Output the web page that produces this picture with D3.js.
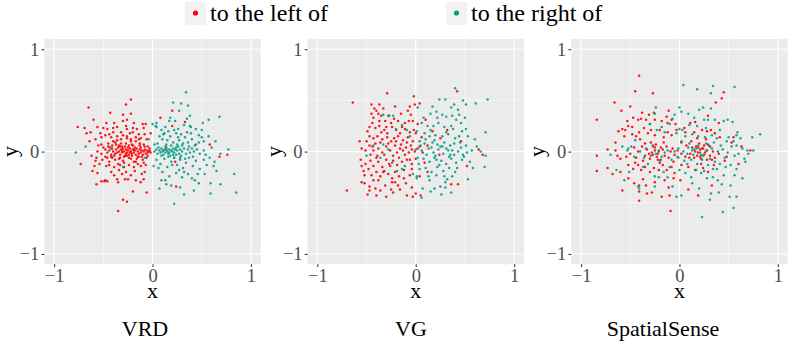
<!DOCTYPE html>
<meta charset="utf-8">
<head>
  <script src="https://d3js.org/d3.v7.min.js"></script>
  <style>
    body { margin: 0; background: #fff; }
    text { font-family: "Liberation Serif", "Times New Roman", serif; }
  </style>
</head>
<body>
<div id="chart"></div>
<script type="text/javascript">
"use strict"

// legenda e paineis
var series = ["to the left of", "to the right of"];
var cores = ["#ff0000", "#00a087"];
var paineis = ["VRD", "VG", "SpatialSense"];
var ticksMaiores = [-1, 0, 1];
var ticksMenores = [-0.5, 0.5];

// VRD
var vrdLeft = [
  [-0.22,0.51],[-0.27,0.46],[-0.65,0.43],[-0.76,0.24],[-0.69,0.23],[-0.60,0.31],[-0.63,0.19],[-0.73,-0.12],
  [-0.57,-0.32],[-0.52,-0.29],[-0.48,-0.28],[-0.46,-0.29],[-0.35,-0.58],[-0.30,-0.47],[-0.26,-0.49],[-0.20,-0.39],[-0.06,-0.40],
  [-0.43,0.38],[-0.30,0.36],[-0.22,0.37],
  [-0.47,0.28],[-0.39,0.28],[-0.30,0.30],[-0.26,0.31],[-0.19,0.28],[-0.10,0.27],[-0.07,0.27],
  [-0.56,0.24],[-0.50,0.23],[-0.46,0.22],[-0.40,0.23],[-0.36,0.24],[-0.27,0.25],[-0.26,0.22],[-0.20,0.23],[-0.16,0.22],[-0.09,0.23],
  [-0.67,0.18],[-0.53,0.18],[-0.48,0.16],[-0.44,0.17],[-0.40,0.19],[-0.32,0.19],[-0.30,0.16],[-0.23,0.18],[-0.20,0.19],[-0.14,0.17],[-0.08,0.17],
  [-0.58,0.12],[-0.52,0.14],[-0.42,0.14],[-0.36,0.15],[-0.32,0.12],[-0.26,0.13],[-0.22,0.12],[-0.17,0.14],[-0.12,0.13],[-0.06,0.12],
  [-0.52,0.07],[-0.45,0.08],[-0.41,0.06],[-0.38,0.09],[-0.34,0.06],[-0.31,0.05],[-0.27,0.08],[-0.24,0.06],[-0.21,0.07],[-0.17,0.10],[-0.13,0.06],[-0.09,0.07],[-0.05,0.05],
  [-0.56,0.00],[-0.52,-0.02],[-0.48,0.02],[-0.46,-0.01],[-0.44,0.01],[-0.42,-0.03],[-0.41,0.03],[-0.40,0.00],[-0.38,-0.02],[-0.37,0.02],
  [-0.36,-0.01],[-0.35,0.04],[-0.34,0.00],[-0.33,-0.03],[-0.32,0.02],[-0.31,-0.01],[-0.30,0.03],[-0.29,0.00],[-0.28,-0.04],[-0.27,0.02],
  [-0.26,-0.01],[-0.25,0.01],[-0.24,-0.03],[-0.23,0.03],[-0.22,0.00],[-0.21,-0.02],[-0.20,0.02],[-0.19,-0.01],[-0.18,0.01],[-0.17,-0.03],
  [-0.16,0.03],[-0.15,0.00],[-0.14,-0.02],[-0.13,0.02],[-0.12,-0.01],[-0.11,0.01],[-0.10,-0.03],[-0.09,0.00],[-0.08,0.02],[-0.07,-0.02],
  [-0.06,0.01],[-0.05,-0.01],[-0.04,0.00],[-0.03,0.01],[-0.02,-0.01],
  [-0.43,0.04],[-0.39,-0.04],[-0.33,0.05],[-0.29,-0.05],[-0.25,0.04],[-0.21,-0.04],[-0.18,0.04],[-0.15,-0.05],[-0.12,0.04],[-0.31,0.01],[-0.27,-0.02],[-0.23,-0.01],[-0.19,0.02],
  [-0.45,0.05],[-0.41,-0.06],[-0.37,0.07],[-0.34,-0.07],[-0.32,0.08],[-0.28,0.05],[-0.24,-0.06],[-0.20,0.06],[-0.16,-0.07],[-0.13,0.08],
  [-0.11,-0.05],[-0.08,0.05],[-0.05,-0.04],[-0.03,0.03],[-0.50,0.04],[-0.48,-0.05],[-0.36,0.11],[-0.29,-0.11],[-0.22,0.10],[-0.19,-0.10],
  [-0.14,0.12],[-0.09,-0.11],[-0.40,0.10],[-0.44,-0.10],[-0.26,0.15],[-0.33,-0.13],[-0.15,-0.12],[-0.55,0.06],[-0.58,-0.09],[-0.64,0.10],
  [-0.62,-0.04],[-0.57,-0.06],[-0.51,-0.08],[-0.46,-0.06],[-0.42,-0.05],[-0.38,-0.08],[-0.33,-0.06],[-0.30,-0.09],[-0.26,-0.04],[-0.22,-0.07],[-0.17,-0.10],[-0.14,-0.05],[-0.10,-0.08],[-0.06,-0.06],
  [-0.59,-0.14],[-0.54,-0.12],[-0.47,-0.14],[-0.44,-0.13],[-0.39,-0.15],[-0.35,-0.12],[-0.29,-0.15],[-0.24,-0.13],[-0.19,-0.15],[-0.12,-0.14],[-0.07,-0.13],
  [-0.61,-0.19],[-0.56,-0.21],[-0.42,-0.20],[-0.39,-0.23],[-0.34,-0.18],[-0.31,-0.22],[-0.27,-0.20],[-0.22,-0.23],[-0.18,-0.19],[-0.11,-0.22],[-0.08,-0.20],
  [-0.49,-0.29],[-0.36,-0.27],[-0.35,-0.30],[-0.28,-0.27],[-0.25,-0.27],[-0.17,-0.28],[-0.12,-0.30],[-0.09,-0.27],
  [0.20,0.40],[0.08,0.33],[0.33,0.29],[0.20,0.25],[-0.02,0.18],[0.14,0.02],[0.58,0.07],[0.76,-0.03],[0.68,-0.05],[0.23,-0.10],[0.24,-0.34]
];
var vrdRight = [
  [0.34,0.58],[0.21,0.48],[0.29,0.47],[0.36,0.45],[0.68,0.34],[0.57,0.31],[0.51,0.28],[0.38,0.35],[0.27,0.40],[0.04,0.28],[0.00,0.27],
  [0.83,-0.22],[0.85,-0.40],[0.69,-0.32],[0.59,-0.31],[0.59,-0.41],[0.42,-0.38],[0.32,-0.42],[0.22,-0.51],[0.07,-0.36],[0.14,-0.32],
  [0.09,-0.28],[0.19,-0.33],[0.47,-0.31],[0.65,-0.19],[0.63,-0.10],[0.53,-0.22],[0.77,0.02],[0.69,-0.02],[0.64,0.10],[0.57,0.15],
  [0.52,0.10],[0.47,0.16],[0.50,0.21],[0.44,0.22],[0.39,0.24],[0.32,0.26],[0.23,0.30],[0.17,0.30],[0.13,0.24],[0.09,0.21],[0.04,0.24],
  [-0.78,-0.01],[-0.68,0.05],[-0.30,-0.15],[0.03,0.25],[-0.04,0.12],[0.02,0.07],[-0.08,-0.06],[0.01,-0.14],[-0.42,0.03],
  [0.02,0.00],[0.04,0.02],[0.05,-0.02],[0.07,0.01],[0.08,-0.01],[0.09,0.03],[0.10,0.00],[0.11,-0.03],[0.12,0.02],[0.13,-0.01],
  [0.14,0.04],[0.15,0.00],[0.16,-0.02],[0.17,0.02],[0.18,-0.04],[0.19,0.01],[0.20,0.00],[0.21,0.03],[0.22,-0.01],[0.23,0.02],
  [0.24,-0.03],[0.25,0.01],[0.26,0.05],[0.27,-0.02],[0.28,0.02],[0.30,0.00],[0.32,0.03],[0.34,-0.02],[0.36,0.02],[0.38,-0.01],
  [0.40,0.03],[0.42,0.00],[0.45,0.02],[0.48,-0.02],[0.52,0.01],[0.11,0.01],[0.17,-0.01],[0.21,-0.03],[0.24,0.04],[0.29,-0.04],
  [0.06,0.04],[0.09,-0.04],[0.13,0.05],[0.16,-0.05],[0.19,0.06],[0.22,-0.06],[0.25,0.07],[0.28,-0.06],[0.31,0.08],[0.33,-0.07],
  [0.37,0.05],[0.41,-0.05],[0.44,0.07],[0.15,0.11],[0.20,-0.13],[0.26,0.22],[0.32,-0.20],[0.38,0.25],[0.46,-0.22],[0.50,0.14],
  [0.54,-0.03],[0.62,-0.14],[0.11,0.17],[0.06,-0.16],[0.18,0.33],[0.35,0.32],[0.43,-0.28],[0.28,-0.35],
  [0.05,0.08],[0.10,0.12],[0.14,0.07],[0.18,0.15],[0.21,0.09],[0.24,0.18],[0.27,0.11],[0.30,0.06],[0.33,0.14],[0.36,0.09],
  [0.40,0.12],[0.43,0.06],[0.47,0.09],[0.12,0.18],[0.16,0.20],[0.22,0.21],[0.29,0.17],[0.35,0.19],[0.07,0.15],[0.26,0.14],[0.39,0.18],
  [0.04,-0.08],[0.08,-0.12],[0.12,-0.07],[0.15,-0.15],[0.19,-0.10],[0.22,-0.06],[0.25,-0.13],[0.28,-0.08],[0.31,-0.16],[0.34,-0.11],
  [0.37,-0.06],[0.41,-0.14],[0.44,-0.09],[0.48,-0.17],[0.52,-0.08],[0.10,-0.20],[0.17,-0.24],[0.24,-0.21],[0.30,-0.25],[0.36,-0.22],
  [0.40,-0.26],[0.13,-0.28],[0.27,-0.18],[0.55,-0.13],[0.58,-0.06],[0.60,0.04]
];

// VG
var vgLeft = [
  [-0.29,0.57],[-0.64,0.48],[-0.45,0.46],[-0.37,0.46],[-0.21,0.44],[-0.06,0.44],[-0.42,0.42],[-0.40,0.40],[-0.38,0.37],[-0.35,0.35],
  [-0.15,0.37],[-0.05,0.36],[-0.02,0.54],[0.42,0.59],
  [-0.43,0.33],[-0.37,0.30],[-0.44,0.28],[-0.31,0.30],[-0.25,0.28],[-0.18,0.30],[-0.11,0.28],[-0.07,0.30],[-0.03,0.30],
  [-0.47,0.24],[-0.41,0.23],[-0.37,0.25],[-0.32,0.21],[-0.29,0.18],[-0.24,0.24],[-0.20,0.21],[-0.16,0.18],[-0.11,0.22],[-0.06,0.19],[0.00,0.18],
  [-0.47,0.15],[-0.43,0.13],[-0.39,0.15],[-0.34,0.12],[-0.29,0.14],[-0.25,0.10],[-0.22,0.13],[-0.18,0.15],[-0.13,0.11],[-0.08,0.14],[-0.03,0.10],
  [-0.55,0.03],[-0.51,0.01],[-0.47,0.06],[-0.43,0.01],[-0.41,0.08],[-0.38,0.03],[-0.34,-0.01],[-0.30,0.05],[-0.26,0.01],[-0.21,0.06],
  [-0.19,-0.01],[-0.16,0.03],[-0.13,0.01],[-0.10,0.04],[-0.07,-0.01],[-0.04,0.02],[-0.01,0.00],[0.02,0.03],[-0.46,-0.03],[-0.39,-0.04],
  [-0.32,-0.03],[-0.23,-0.04],[-0.11,-0.03],[-0.28,0.08],[-0.36,0.09],[-0.50,0.10],[-0.15,0.07],[-0.05,0.06],
  [-0.44,0.05],[-0.40,-0.06],[-0.35,0.19],[-0.33,-0.20],[-0.27,0.35],[-0.24,-0.30],[-0.20,0.10],[-0.17,-0.06],[-0.14,0.24],[-0.12,-0.26],
  [-0.09,0.09],[-0.06,-0.08],[-0.02,0.21],[-0.49,0.20],[-0.52,-0.23],[-0.45,0.37],[-0.38,-0.28],[-0.30,0.24],[-0.26,-0.14],[-0.22,0.32],
  [-0.18,-0.33],[-0.08,0.40],[-0.04,-0.17],[-0.47,-0.38],[-0.33,0.42],[0.06,0.14],[0.12,-0.20],[0.02,0.27],[-0.57,0.10],[-0.55,-0.14],
  [-0.56,-0.08],[-0.51,-0.12],[-0.46,-0.09],[-0.43,-0.14],[-0.38,-0.10],[-0.34,-0.15],[-0.30,-0.08],[-0.27,-0.12],[-0.23,-0.09],[-0.19,-0.13],[-0.14,-0.10],[-0.09,-0.08],[-0.04,-0.12],
  [-0.53,-0.19],[-0.48,-0.17],[-0.45,-0.23],[-0.40,-0.20],[-0.36,-0.24],[-0.32,-0.19],[-0.28,-0.22],[-0.24,-0.26],[-0.21,-0.20],[-0.17,-0.24],[-0.12,-0.18],[-0.06,-0.23],
  [-0.55,-0.30],[-0.52,-0.31],[-0.47,-0.34],[-0.43,-0.28],[-0.41,-0.36],[-0.36,-0.38],[-0.31,-0.33],[-0.25,-0.37],[-0.21,-0.30],[-0.16,-0.37],[-0.10,-0.31],[-0.04,-0.35],
  [-0.49,-0.42],[-0.40,-0.43],[-0.30,-0.44],[-0.23,-0.40],[-0.09,-0.43],[-0.03,-0.44],[-0.70,-0.38],
  [-0.01,0.46],[0.04,0.47],[0.10,0.31],[0.17,0.20],[0.25,0.13],[0.46,0.10],[0.64,0.02],[0.68,-0.03],[0.52,-0.14],[0.36,-0.32],[0.43,-0.32],
  [0.04,0.05],[0.07,-0.01],[0.12,0.06],[0.00,-0.07],[0.09,-0.11],[0.04,-0.24],[0.00,-0.41],[0.05,-0.43],[0.24,-0.03],[0.32,0.21]
];
var vgRight = [
  [0.40,0.62],[0.24,0.51],[0.30,0.51],[0.48,0.50],[0.73,0.51],[0.61,0.47],[0.51,0.46],[0.39,0.46],[0.36,0.43],[0.43,0.41],[0.02,0.43],
  [0.15,0.37],[0.21,0.39],[0.27,0.36],[0.31,0.34],[0.37,0.35],[0.41,0.31],[0.46,0.28],[0.06,0.28],[0.12,0.25],[0.18,0.25],[0.23,0.28],
  [0.29,0.24],[0.36,0.25],[0.47,0.20],[0.51,0.22],[0.71,0.19],[0.01,0.20],[0.09,0.18],[0.14,0.15],[0.20,0.16],[0.27,0.15],[0.33,0.17],
  [0.40,0.13],[0.44,0.15],[0.04,0.10],[0.10,0.12],[0.17,0.09],[0.22,0.07],[0.29,0.09],[0.35,0.06],[0.39,0.08],[0.46,0.04],[0.51,0.06],
  [0.57,0.01],[0.62,0.05],[0.00,0.02],[0.06,0.01],[0.13,0.03],[0.18,-0.01],[0.23,0.02],[0.28,-0.02],[0.33,0.01],[0.39,-0.03],[0.43,0.00],
  [0.48,-0.03],[0.52,-0.01],[0.71,-0.04],[0.70,-0.15],[0.02,-0.06],[0.08,-0.07],[0.14,-0.10],[0.19,-0.06],[0.26,-0.09],[0.31,-0.12],
  [0.36,-0.07],[0.41,-0.11],[0.47,-0.08],[0.04,-0.17],[0.10,-0.16],[0.16,-0.20],[0.22,-0.15],[0.28,-0.19],[0.34,-0.16],[0.40,-0.20],
  [0.58,-0.16],[0.01,-0.24],[0.14,-0.28],[0.21,-0.23],[0.29,-0.24],[0.32,-0.27],[0.37,-0.24],[0.53,-0.27],[0.19,-0.36],[0.25,-0.34],
  [0.30,-0.35],[0.36,-0.40],[0.07,-0.36],[0.06,-0.45],[0.15,-0.39],[0.25,0.05],[0.31,0.03],[0.20,-0.04],[0.16,0.04],[0.35,-0.03],
  [0.05,0.06],[0.11,-0.03],[0.15,0.21],[0.19,0.11],[0.24,-0.13],[0.27,0.05],[0.31,0.19],[0.34,-0.05],[0.38,0.22],[0.42,-0.16],
  [0.45,0.09],[0.49,-0.05],[0.53,0.15],[0.55,-0.10],[0.60,0.12],[0.66,0.00],[0.08,0.33],[0.13,-0.24],[0.22,0.33],[0.30,-0.30],
  [0.44,0.36],[0.50,0.33],[0.17,0.44],[0.03,-0.12],[0.26,-0.42],[0.09,0.08],[0.37,0.01],[0.21,-0.08],
  [-0.28,0.35],[-0.23,0.35],[-0.14,0.26],[-0.20,0.22],[-0.09,0.21],[-0.06,0.15],[-0.33,0.07],[-0.28,0.02],[-0.36,-0.06],[-0.24,-0.11],
  [-0.19,-0.19],[-0.14,-0.17],[-0.11,-0.14],[-0.03,-0.22],[0.01,-0.26],[-0.43,0.06],[-0.50,-0.04],[-0.33,0.36]
];

// SpatialSense
var ssLeft = [
  [-0.41,0.74],[-0.45,0.59],[-0.27,0.57],[-0.66,0.48],[-0.50,0.44],[-0.59,0.40],[-0.84,0.31],[-0.38,0.38],[-0.47,0.33],[-0.42,0.31],
  [-0.39,0.32],[-0.34,0.31],[-0.30,0.27],[-0.25,0.31],[-0.18,0.30],[-0.12,0.28],[-0.08,0.31],[-0.04,0.27],[-0.11,0.40],[-0.13,0.34],[-0.26,0.38],
  [-0.62,0.20],[-0.58,0.22],[-0.55,0.21],[-0.52,0.25],[-0.48,0.17],[-0.44,0.15],[-0.41,0.19],[-0.36,0.23],[-0.32,0.18],[-0.29,0.21],
  [-0.25,0.16],[-0.20,0.21],[-0.16,0.14],[-0.12,0.19],[-0.08,0.16],[-0.03,0.21],
  [-0.73,0.02],[-0.65,0.01],[-0.84,-0.04],[-0.63,-0.04],[-0.60,-0.07],[-0.54,-0.05],[-0.50,-0.02],[-0.46,0.04],[-0.44,-0.06],[-0.42,0.00],
  [-0.38,0.05],[-0.35,-0.04],[-0.33,0.02],[-0.30,-0.07],[-0.28,-0.01],[-0.25,0.04],[-0.23,-0.05],[-0.21,0.00],[-0.19,-0.08],[-0.17,0.02],
  [-0.15,-0.04],[-0.13,0.05],[-0.11,-0.06],[-0.09,0.00],[-0.07,0.03],[-0.05,-0.03],[-0.02,0.01],[-0.25,0.01],[-0.27,0.06],[-0.22,-0.02],
  [-0.27,-0.03],[-0.24,0.07],[-0.22,-0.08],[-0.19,0.04],[-0.29,0.09],[-0.31,-0.02],[-0.35,0.08],[-0.37,-0.09],[-0.40,0.12],[-0.45,-0.11],
  [-0.20,-0.11],[-0.16,0.09],[-0.56,0.15],[-0.48,0.24],[-0.60,-0.20],[-0.53,0.30],[-0.31,0.36],[-0.06,-0.10],[-0.65,0.09],
  [-0.73,-0.16],[-0.68,-0.22],[-0.52,-0.13],[-0.47,-0.17],[-0.42,-0.13],[-0.39,-0.18],[-0.35,-0.15],[-0.30,-0.20],[-0.26,-0.16],[-0.21,-0.18],
  [-0.17,-0.13],[-0.13,-0.18],[-0.08,-0.15],[-0.05,-0.21],
  [-0.84,-0.19],[-0.58,-0.38],[-0.52,-0.26],[-0.46,-0.31],[-0.41,-0.33],[-0.37,-0.27],[-0.34,-0.33],[-0.41,-0.39],[-0.33,-0.41],[-0.28,-0.40],
  [-0.18,-0.44],[-0.10,-0.43],[-0.41,-0.48],[-0.09,-0.58],[-0.25,-0.30],[-0.15,-0.28],[-0.06,-0.26],[-0.11,-0.35],
  [0.45,0.58],[0.43,0.52],[0.37,0.48],[0.29,0.35],[0.16,0.29],[0.11,0.28],[0.06,0.19],[0.15,0.19],[0.23,0.21],[0.28,0.20],[0.32,0.21],
  [0.36,0.18],[0.41,0.14],[0.53,0.09],[0.55,0.14],[0.63,0.05],[0.72,0.01],[0.02,0.09],[0.07,0.06],[0.12,0.10],[0.17,0.05],[0.20,0.08],
  [0.23,0.03],[0.25,0.06],[0.28,0.01],[0.31,0.05],[0.34,0.00],[0.02,-0.02],[0.06,-0.05],[0.11,-0.02],[0.15,-0.06],[0.19,-0.01],
  [0.22,-0.07],[0.25,-0.03],[0.28,-0.08],[0.31,-0.04],[0.36,-0.06],[0.40,-0.02],[0.46,-0.09],[0.60,-0.12],[0.02,-0.13],[0.09,-0.15],
  [0.16,-0.18],[0.24,-0.16],[0.29,-0.20],[0.35,-0.13],[0.09,-0.37],[0.19,-0.43],[0.33,-0.33],[0.01,-0.28],[0.21,0.02],[0.18,-0.04],
  [0.16,0.00],[0.19,0.04],[0.21,-0.05],[0.24,0.03],[0.26,-0.01],[0.13,0.04],[0.29,0.07],[0.10,-0.06],[0.33,-0.08],[0.27,0.12],
  [0.18,0.13],[0.22,-0.12],[0.05,0.23],[0.40,0.28],[0.48,-0.05]
];
var ssRight = [
  [0.04,0.65],[0.18,0.61],[0.34,0.64],[0.56,0.63],[0.32,0.57],[0.00,0.43],[0.02,0.39],[0.09,0.37],[0.20,0.41],[0.24,0.43],[0.32,0.42],
  [0.29,0.31],[0.49,0.31],[0.54,0.29],[0.45,0.30],[0.36,0.31],[0.25,0.31],[0.10,0.26],[0.18,0.25],[0.03,0.21],[0.59,0.19],[0.58,0.16],
  [0.82,0.17],[0.74,0.14],[0.41,0.21],[0.06,0.15],[0.13,0.17],[0.19,0.15],[0.26,0.14],[0.33,0.16],[0.38,0.13],[0.48,0.10],[0.53,0.05],
  [0.58,0.06],[0.64,0.03],[0.69,0.01],[0.75,0.01],[-0.01,0.03],[0.04,0.00],[0.09,0.04],[0.13,0.01],[0.17,0.03],[0.21,-0.01],[0.27,0.01],
  [0.33,0.03],[0.39,0.00],[0.44,0.02],[0.49,-0.01],[0.56,-0.04],[0.66,-0.07],[0.67,-0.10],[-0.01,-0.06],[0.05,-0.09],[0.12,-0.08],
  [0.18,-0.12],[0.23,-0.08],[0.29,-0.13],[0.36,-0.10],[0.41,-0.12],[0.47,-0.15],[0.52,-0.13],[0.58,-0.17],[0.56,-0.23],[0.64,-0.26],
  [0.00,-0.18],[0.06,-0.21],[0.12,-0.25],[0.17,-0.18],[0.22,-0.21],[0.28,-0.26],[0.34,-0.25],[0.39,-0.28],[0.45,-0.23],[0.13,-0.31],
  [0.20,-0.36],[0.32,-0.41],[0.40,-0.40],[0.51,-0.44],[0.58,-0.44],[0.02,-0.43],[0.31,-0.47],[0.55,-0.55],[0.44,-0.59],[0.23,-0.64],[-0.03,-0.44],
  [0.15,0.02],[0.24,-0.04],[0.30,0.06],[0.08,-0.02],
  [0.10,0.08],[0.14,-0.03],[0.19,0.06],[0.22,-0.03],[0.27,0.08],[0.31,-0.07],[0.35,0.09],[0.38,-0.17],[0.42,0.06],[0.46,-0.06],
  [0.50,0.14],[0.55,0.10],[0.60,-0.02],[0.62,0.13],[0.15,0.33],[0.27,0.23],[0.08,-0.12],[0.25,-0.19],[0.43,-0.32],[0.52,-0.33],
  [0.34,-0.17],[-0.27,0.05],[-0.20,-0.09],[-0.36,-0.06],[-0.12,-0.25],[-0.45,0.11],[-0.58,0.05],[-0.10,0.27],[0.70,-0.02],[0.02,0.10],
  [-0.24,0.43],[-0.25,0.37],[-0.05,0.36],[-0.07,0.32],[-0.30,0.27],[-0.18,0.24],[-0.23,0.21],[-0.15,0.19],[-0.03,0.18],[0.00,0.22],
  [-0.52,0.03],[-0.53,0.01],[-0.49,0.05],[-0.70,-0.03],[-0.46,-0.05],[-0.40,0.00],[-0.34,0.03],[-0.29,-0.04],[-0.24,-0.02],[-0.21,0.01],
  [-0.18,-0.05],[-0.15,-0.01],[-0.12,0.01],[-0.08,-0.08],[-0.05,0.00],[-0.02,-0.05],[-0.51,-0.20],[-0.64,-0.18],[-0.56,-0.28],[-0.42,-0.34],
  [-0.41,-0.36],[-0.25,-0.24],[-0.21,-0.25],[-0.16,-0.20],[-0.10,-0.15],[-0.07,-0.34],[-0.25,-0.34],[-0.37,-0.15],[-0.32,-0.12]
];

var dados = [[vrdLeft, vrdRight], [vgLeft, vgRight], [ssLeft, ssRight]];

var larguraSVG = 789, alturaSVG = 356;
var esquerdas = [44.3, 307.5, 571.2];
var tituloX = [145, 411, 663];
var larguraPainel = 216.5, alturaPainel = 225.2, topo = 39;
var fonte = '"Liberation Serif", "Times New Roman", serif';

var svg = d3.select('#chart')
            .append('svg')
              .attr('width', larguraSVG)
              .attr('height', alturaSVG);

function formato(d) {
  return d < 0 ? "\u2212" + Math.abs(d) : String(d);
}

function desenhaPainel(i) {
  var g = svg.append('g')
             .attr('transform', 'translate(' + esquerdas[i] + ',' + topo + ')');

  var x = d3.scaleLinear().domain([-1.1, 1.1]).range([0, larguraPainel]);
  var y = d3.scaleLinear().domain([-1.1, 1.1]).range([alturaPainel, 0]);

  g.append('rect')
   .attr('width', larguraPainel)
   .attr('height', alturaPainel)
   .attr('fill', '#ebebeb');

  // grade
  ticksMenores.forEach(function(t) {
    g.append('line').attr('x1', x(t)).attr('x2', x(t)).attr('y1', 0).attr('y2', alturaPainel)
     .attr('stroke', '#fff').attr('stroke-width', 0.55);
    g.append('line').attr('y1', y(t)).attr('y2', y(t)).attr('x1', 0).attr('x2', larguraPainel)
     .attr('stroke', '#fff').attr('stroke-width', 0.55);
  });
  ticksMaiores.forEach(function(t) {
    g.append('line').attr('x1', x(t)).attr('x2', x(t)).attr('y1', 0).attr('y2', alturaPainel)
     .attr('stroke', '#fff').attr('stroke-width', 1.1);
    g.append('line').attr('y1', y(t)).attr('y2', y(t)).attr('x1', 0).attr('x2', larguraPainel)
     .attr('stroke', '#fff').attr('stroke-width', 1.1);
  });

  // pontos
  dados[i].forEach(function(serie, k) {
    g.append('g').selectAll('circle')
     .data(serie)
     .enter()
     .append('circle')
     .attr('cx', function(d) { return x(d[0]); })
     .attr('cy', function(d) { return y(d[1]); })
     .attr('r', 1.25)
     .attr('fill', cores[k])
     .attr('fill-opacity', 0.9);
  });

  // eixos
  var eixoY = g.append('g')
               .call(d3.axisLeft(y).tickValues(ticksMaiores).tickSize(2.75).tickPadding(2.2).tickFormat(formato));
  var eixoX = g.append('g')
               .attr('transform', 'translate(0,' + alturaPainel + ')')
               .call(d3.axisBottom(x).tickValues(ticksMaiores).tickSize(2.75).tickPadding(2.2).tickFormat(formato));
  [eixoX, eixoY].forEach(function(e) {
    e.select('.domain').remove();
    e.attr('font-family', fonte).attr('font-size', 18.5);
    e.selectAll('line').attr('stroke', '#333').attr('stroke-width', 1.07);
    e.selectAll('text')
     .attr('fill', '#4d4d4d')
     .style('font-family', fonte)
     .style('font-size', '18.5px');
  });

  g.append('text')
   .attr('x', larguraPainel / 2)
   .attr('y', alturaPainel + 33.5)
   .attr('text-anchor', 'middle')
   .style('font-size', '22px')
   .text('x');

  g.append('text')
   .attr('transform', 'translate(-27,' + (alturaPainel / 2) + ') rotate(-90)')
   .attr('text-anchor', 'middle')
   .style('font-size', '22px')
   .text('y');

  svg.append('text')
     .attr('x', tituloX[i])
     .attr('y', 336)
     .attr('text-anchor', 'middle')
     .style('font-size', '22px')
     .text(paineis[i]);
}

[0, 1, 2].forEach(desenhaPainel);

// legenda
var legendaX = [185, 446];
series.forEach(function(s, k) {
  var lg = svg.append('g').attr('transform', 'translate(' + legendaX[k] + ',2)');
  lg.append('rect').attr('width', 21).attr('height', 23).attr('fill', '#f2f2f2');
  lg.append('circle').attr('cx', 10.5).attr('cy', 11).attr('r', 2.6).attr('fill', cores[k]);
  lg.append('text').attr('x', 25).attr('y', 19).style('font-size', '24px').text(s);
});
</script>
</body>
